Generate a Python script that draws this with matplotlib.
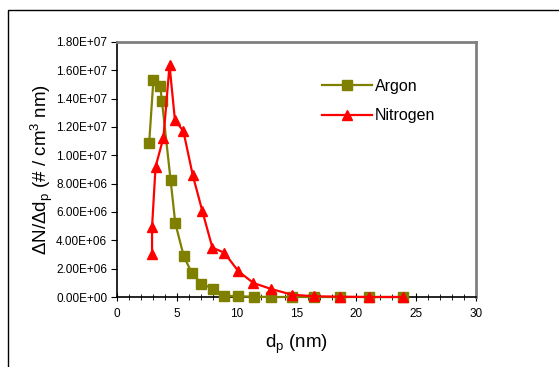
import matplotlib.pyplot as plt
from matplotlib.patches import Rectangle
from matplotlib.ticker import MultipleLocator, FuncFormatter

plt.rcParams['font.family'] = ['Liberation Sans', 'DejaVu Sans']
plt.rcParams['mathtext.fontset'] = 'custom'
plt.rcParams['mathtext.rm'] = 'Liberation Sans'
plt.rcParams['mathtext.it'] = 'Liberation Sans'

argon_d = [2.69, 3.04, 3.61, 3.76, 4.48, 4.87, 5.58, 6.24, 7.04, 8.0,
           8.96, 10.15, 11.46, 12.9, 14.63, 16.5, 18.66, 21.1, 23.9]
argon_n = [1.09e7, 1.53e7, 1.49e7, 1.38e7, 8.24e6, 5.22e6, 2.87e6, 1.72e6,
           9.4e5, 5.9e5, 1.0e5, 5e4, 2e4, 0, 0, 0, 0, 0, 0]

nitrogen_d = [2.93, 2.93, 3.22, 3.88, 4.39, 4.84, 5.55, 6.33, 7.13, 7.97,
              8.96, 10.15, 11.4, 12.9, 14.63, 16.5, 18.66, 21.1, 23.9]
nitrogen_n = [3.06e6, 4.94e6, 9.18e6, 1.125e7, 1.635e7, 1.25e7, 1.17e7,
              8.6e6, 6.07e6, 3.48e6, 3.13e6, 1.81e6, 9.9e5, 5.6e5, 1.6e5,
              5e4, 2e4, 0, 0]


def sci(v, pos):
    # Excel style labels like 1.80E+07
    if v == 0:
        return '0.00E+00'
    e = len(str(int(round(v)))) - 1
    return '%.2fE+%02d' % (v / 10 ** e, e)


fig = plt.figure(figsize=(5.59, 3.67), dpi=100)
fig.patches.append(Rectangle((8 / 559, -0.1), 1.2, 1 - 10 / 367 + 0.1,
                             transform=fig.transFigure, fill=False,
                             edgecolor='black', linewidth=1))
ax = fig.add_axes([117 / 559, 70 / 367, 359 / 559, 255 / 367])

ax.plot(argon_d, argon_n, color='#808000', marker='s', markersize=6.5,
        linewidth=1.6, label='Argon', clip_on=False, zorder=3)
ax.plot(nitrogen_d, nitrogen_n, color='#ff0000', marker='^', markersize=7,
        linewidth=1.6, label='Nitrogen', clip_on=False, zorder=4)

ax.set_xlim(0, 30)
ax.set_ylim(0, 1.8e7)
ax.xaxis.set_major_locator(MultipleLocator(5))
ax.xaxis.set_minor_locator(MultipleLocator(1))
ax.yaxis.set_major_locator(MultipleLocator(2e6))
ax.yaxis.set_major_formatter(FuncFormatter(sci))
ax.tick_params(axis='x', which='major', direction='inout', length=6,
               labelsize=8.5, pad=5)
ax.tick_params(axis='x', which='minor', direction='inout', length=4)
ax.tick_params(axis='y', direction='out', length=4, labelsize=8.5, pad=3)

for side in ['top', 'right']:
    ax.spines[side].set_color('#808080')
    ax.spines[side].set_linewidth(2)
for side in ['left', 'bottom']:
    ax.spines[side].set_color('black')
    ax.spines[side].set_linewidth(1.2)

ax.set_xlabel('d$_\\mathrm{p}$ (nm)', fontsize=13.5, labelpad=9)
ax.set_ylabel('ΔN/Δd$_\\mathrm{p}$ (# / cm$^3$ nm)', fontsize=13.5,
              labelpad=1)

ax.legend(loc='upper left', bbox_to_anchor=(0.571, 0.855), frameon=False,
          fontsize=11.5, handlelength=3.1, handletextpad=0.2,
          labelspacing=0.9, borderpad=0, borderaxespad=0)

fig.savefig('out.png', dpi=100)
